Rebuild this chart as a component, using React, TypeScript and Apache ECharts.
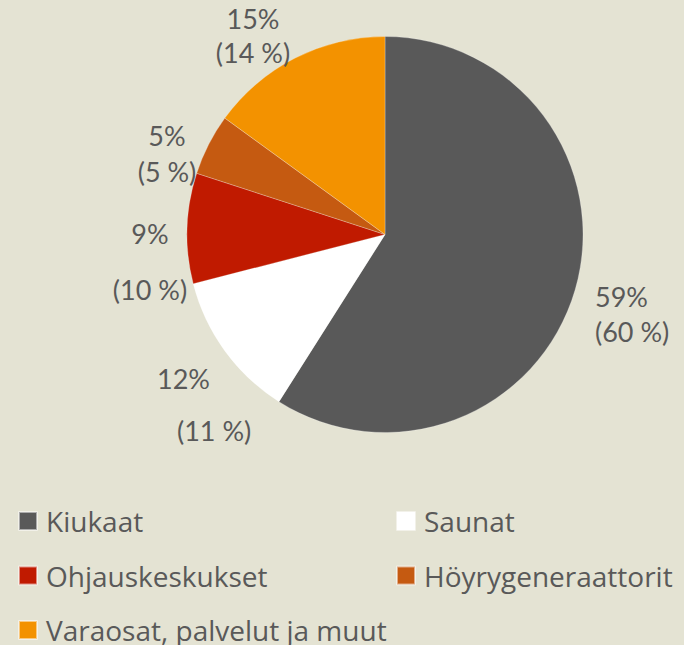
import React, { useEffect, useRef } from "react";
import * as echarts from "echarts";

const categories = ["Kiukaat", "Saunat", "Ohjauskeskukset", "Höyrygeneraattorit", "Varaosat, palvelut ja muut"];
const shares = [59, 12, 9, 5, 15];
const prevShares = [60, 11, 10, 5, 14];
const colors = ["#595959", "#FFFFFF", "#C01A00", "#C55A11", "#F39200"];

// label layout (positions only)
const labelX = [595, 157, 150, 167, 253];
const labelY = [314, 404, 261, 153, 35];
const labelAlign = ["left", "left", "center", "center", "center"];
const labelLineH = [35, 52, 56, 36, 34];
const secondPad = [0, 20, 0, 0, 0];

const TXT = "#595959";
const FONT = "Lato";

export default function App() {
  const ref = useRef<HTMLDivElement>(null);
  useEffect(() => {
    document.body.style.margin = "0";
    const chart = echarts.init(ref.current!, null, { renderer: "svg" });
    const data = categories.map((name, i) => ({
      name,
      value: shares[i],
      itemStyle: { color: colors[i] },
      label: {
        rich: {
          a: { fontSize: 27, fontFamily: FONT, color: TXT, lineHeight: labelLineH[i] },
          b: { fontSize: 27, fontFamily: FONT, color: TXT, lineHeight: labelLineH[i], padding: [0, 0, 0, secondPad[i]] },
        },
      },
    }));
    const legendCommon = {
      orient: "vertical",
      top: 507,
      height: 138,
      padding: 0,
      icon: "rect",
      itemWidth: 18,
      itemHeight: 18,
      itemGap: 26.5,
      selectedMode: false,
      textStyle: { fontSize: 28, fontFamily: "Open Sans", color: TXT, lineHeight: 28, padding: [0, 0, 0, 4] },
    };
    chart.setOption({
      animation: false,
      backgroundColor: "#E4E3D3",
      legend: [
        { ...legendCommon, data: [categories[0], categories[2], categories[4]], left: 18 },
        { ...legendCommon, data: [categories[1], categories[3]], left: 396 },
      ],
      series: [
        {
          type: "pie",
          center: [385, 234.5],
          radius: 198,
          startAngle: 90,
          clockwise: true,
          data,
          itemStyle: { borderColor: "rgba(255,255,255,0.5)", borderWidth: 0.5 },
          emphasis: { disabled: true },
          label: {
            show: true,
            position: "outside",
            overflow: "none",
            formatter: (p: any) => `{a|${p.value}%}\n{b|(${prevShares[p.dataIndex]} %)}`,
          },
          labelLine: { show: false },
          labelLayout: (p: any) => ({
            x: labelX[p.dataIndex],
            y: labelY[p.dataIndex],
            align: labelAlign[p.dataIndex],
            verticalAlign: "middle",
          }),
        },
      ],
    });
    return () => chart.dispose();
  }, []);
  return <div ref={ref} style={{ width: 684, height: 645 }} />;
}
